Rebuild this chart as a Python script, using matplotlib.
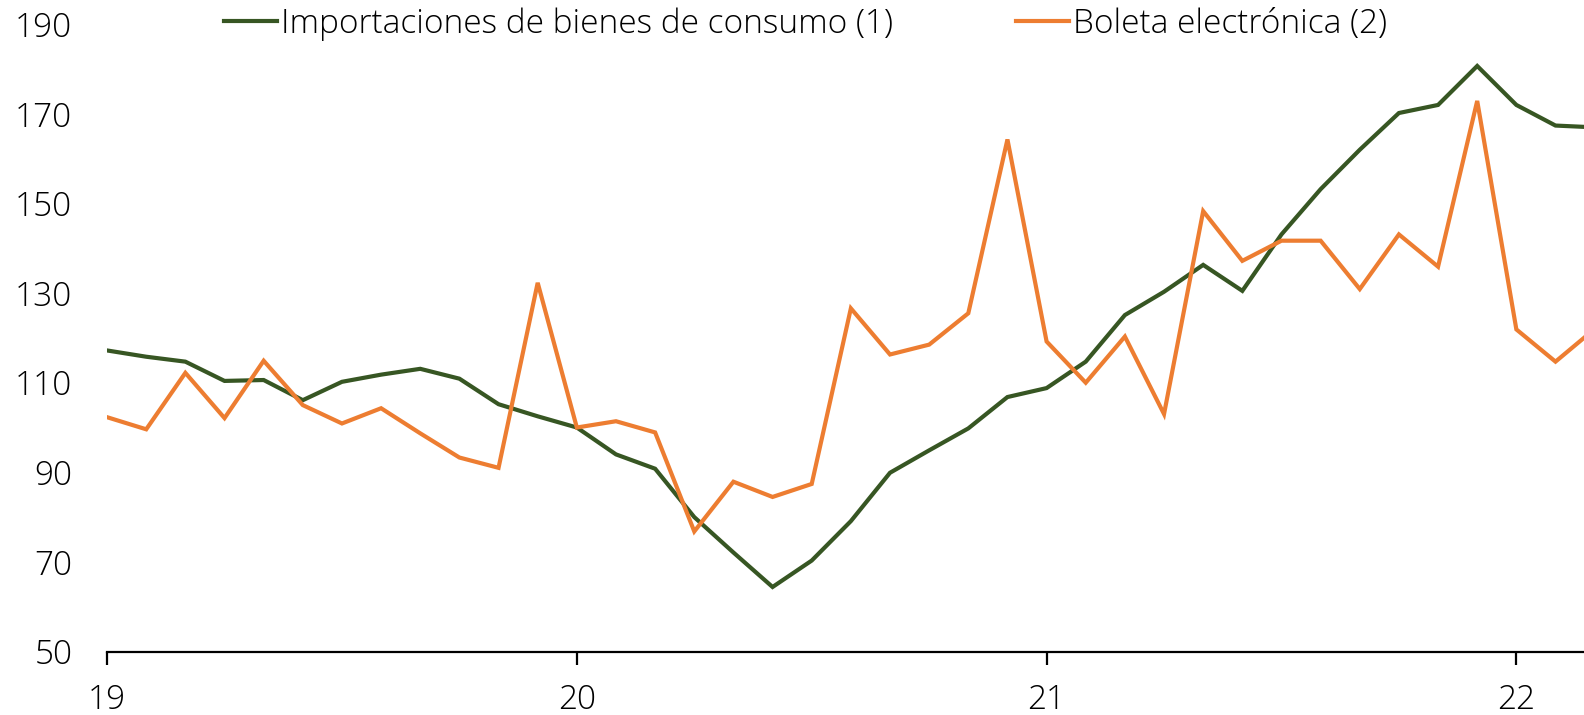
import numpy as np
import matplotlib
matplotlib.use("Agg")
import matplotlib.pyplot as plt

plt.rcParams['font.family'] = ['Open Sans', 'DejaVu Sans']
plt.rcParams['font.weight'] = 'light'

# monthly series, Jan 2019 onwards
importaciones = [117.2, 115.8, 114.7, 110.4, 110.6, 106.1, 110.2, 111.8, 113.1, 110.9,
                 105.2, 102.5, 100.0, 94.0, 90.8, 80.0, 72.1, 64.4, 70.3, 79.1,
                 89.9, 94.9, 99.8, 106.8, 108.8, 114.7, 125.1, 130.3, 136.3, 130.5,
                 143.1, 153.2, 162.0, 170.2, 172.0, 180.7, 172.0, 167.4, 167.0]
boleta = [102.3, 99.6, 112.2, 102.1, 114.9, 105.0, 100.9, 104.3, 98.7, 93.3,
          91.0, 132.3, 100.0, 101.4, 98.9, 76.8, 87.9, 84.5, 87.4, 126.6,
          116.3, 118.5, 125.5, 164.3, 119.2, 110.0, 120.3, 103.0, 148.3, 137.2,
          141.7, 141.7, 130.9, 143.1, 135.9, 172.9, 121.9, 114.7, 122.0]
year_ticks = [19, 20, 21, 22]
year_labels = ['19', '20', '21', '22']
y_ticks = [50, 70, 90, 110, 130, 150, 170, 190]

x = 19 + np.arange(len(importaciones)) / 12.0

fig = plt.figure(figsize=(15.84, 7.15), dpi=100)
ax = fig.add_axes([0.0676, 0.0888, 0.9324, 0.8772])

ax.plot(x, importaciones, color='#375623', lw=3.0, label='Importaciones de bienes de consumo (1)',
        solid_joinstyle='miter')
ax.plot(x, boleta, color='#ED7D31', lw=3.0, label='Boleta electrónica (2)',
        solid_joinstyle='miter')

ax.set_xlim(19, 22.144)
ax.set_ylim(50, 190)
ax.set_xticks(year_ticks)
ax.set_xticklabels(year_labels)
ax.set_yticks(y_ticks)

for s in ['left', 'right', 'top']:
    ax.spines[s].set_visible(False)
ax.spines['bottom'].set_linewidth(1.6)
ax.spines['bottom'].set_color('black')

ax.tick_params(axis='x', direction='out', length=9, width=1.6, pad=14, labelsize=24)
ax.tick_params(axis='y', length=0, pad=25, labelsize=24)

leg = ax.legend(loc='center', bbox_to_anchor=(0.5 - 0.0676 / 2 / 0.9324 + 0.009, 1.0),
                bbox_transform=ax.transAxes, ncol=2, frameon=False, fontsize=24,
                handlelength=1.6, handletextpad=0.1, columnspacing=3.7, borderaxespad=0)

fig.savefig('out.png', dpi=100)
